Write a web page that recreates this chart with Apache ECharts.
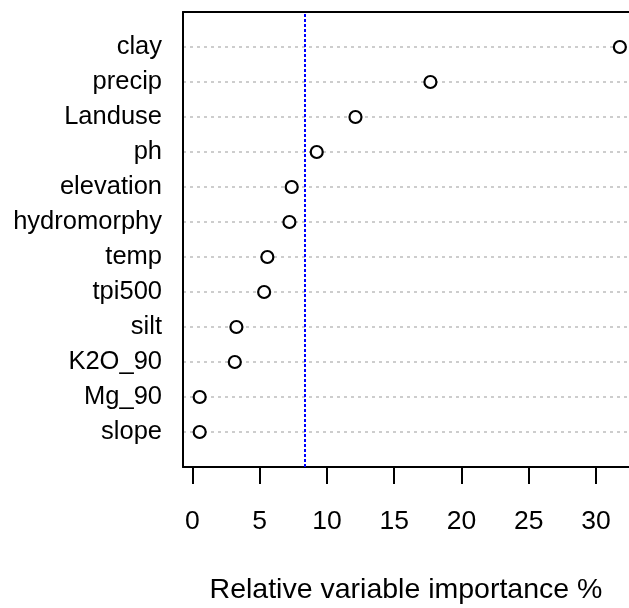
<!DOCTYPE html>
<html><head><meta charset="utf-8">
<script src="https://cdn.jsdelivr.net/npm/echarts@6/dist/echarts.min.js"></script>
<style>html,body{margin:0;padding:0;background:#fff}#c{width:629px;height:608px}</style>
</head><body><div id="c"></div>
<script>
// variables from bottom to top
const variables = ['slope','Mg_90','K2O_90','silt','tpi500','temp','hydromorphy','elevation','ph','Landuse','precip','clay'];
const importance = [0.54, 0.54, 3.15, 3.27, 5.33, 5.57, 7.21, 7.38, 9.24, 12.12, 17.69, 31.77];
const xTicks = [0, 5, 10, 15, 20, 25, 30];
const meanLine = 8.33;
const xTitle = 'Relative variable importance %';

const rows = variables.map((v, i) => i + 1);
const pts = importance.map((v, i) => [v, i + 1]);
const FONT = 'Liberation Sans, Arial, sans-serif';

const chart = echarts.init(document.getElementById('c'), null, {renderer: 'canvas'});
chart.setOption({
  animation: false,
  backgroundColor: '#fff',
  grid: {left: 183, right: 0, top: 12, bottom: 141, containLabel: false, outerBoundsMode: 'none'},
  xAxis: [{
    type: 'value', min: -0.7, max: 32.45, position: 'bottom',
    axisLine: {show: true, onZero: false, lineStyle: {color: '#000', width: 2}},
    axisTick: {show: true, length: 17, lineStyle: {color: '#000', width: 2}, customValues: xTicks},
    axisLabel: {show: true, customValues: xTicks, margin: 41, color: '#000', fontSize: 26.5, fontFamily: FONT},
    splitLine: {show: false},
    name: xTitle, nameLocation: 'middle', nameGap: 109,
    nameTextStyle: {color: '#000', fontSize: 28.5, fontFamily: FONT}
  }, {
    type: 'value', min: -0.7, max: 32.45, position: 'top',
    axisLine: {show: true, onZero: false, lineStyle: {color: '#000', width: 2}},
    axisTick: {show: false}, axisLabel: {show: false}, splitLine: {show: false}
  }],
  yAxis: {
    type: 'value', min: 0, max: 13,
    axisLine: {show: true, onZero: false, lineStyle: {color: '#000', width: 2}},
    axisTick: {show: false, customValues: rows},
    axisLabel: {show: true, customValues: rows, margin: 21, color: '#000', fontSize: 25.5, fontFamily: FONT,
      formatter: v => variables[v - 1] || ''},
    splitLine: {show: true, lineStyle: {color: '#bdbdbd', width: 1.5, type: [3, 4]}}
  },
  series: [{
    type: 'scatter', data: pts, symbol: 'circle', symbolSize: 12,
    itemStyle: {color: '#fff', borderColor: '#000', borderWidth: 2.2, opacity: 1},
    z: 5,
    markLine: {
      silent: true, symbol: 'none', label: {show: false},
      lineStyle: {color: '#0000ff', width: 2, type: [3, 2]},
      data: [{xAxis: meanLine}]
    }
  }]
});
</script></body></html>
